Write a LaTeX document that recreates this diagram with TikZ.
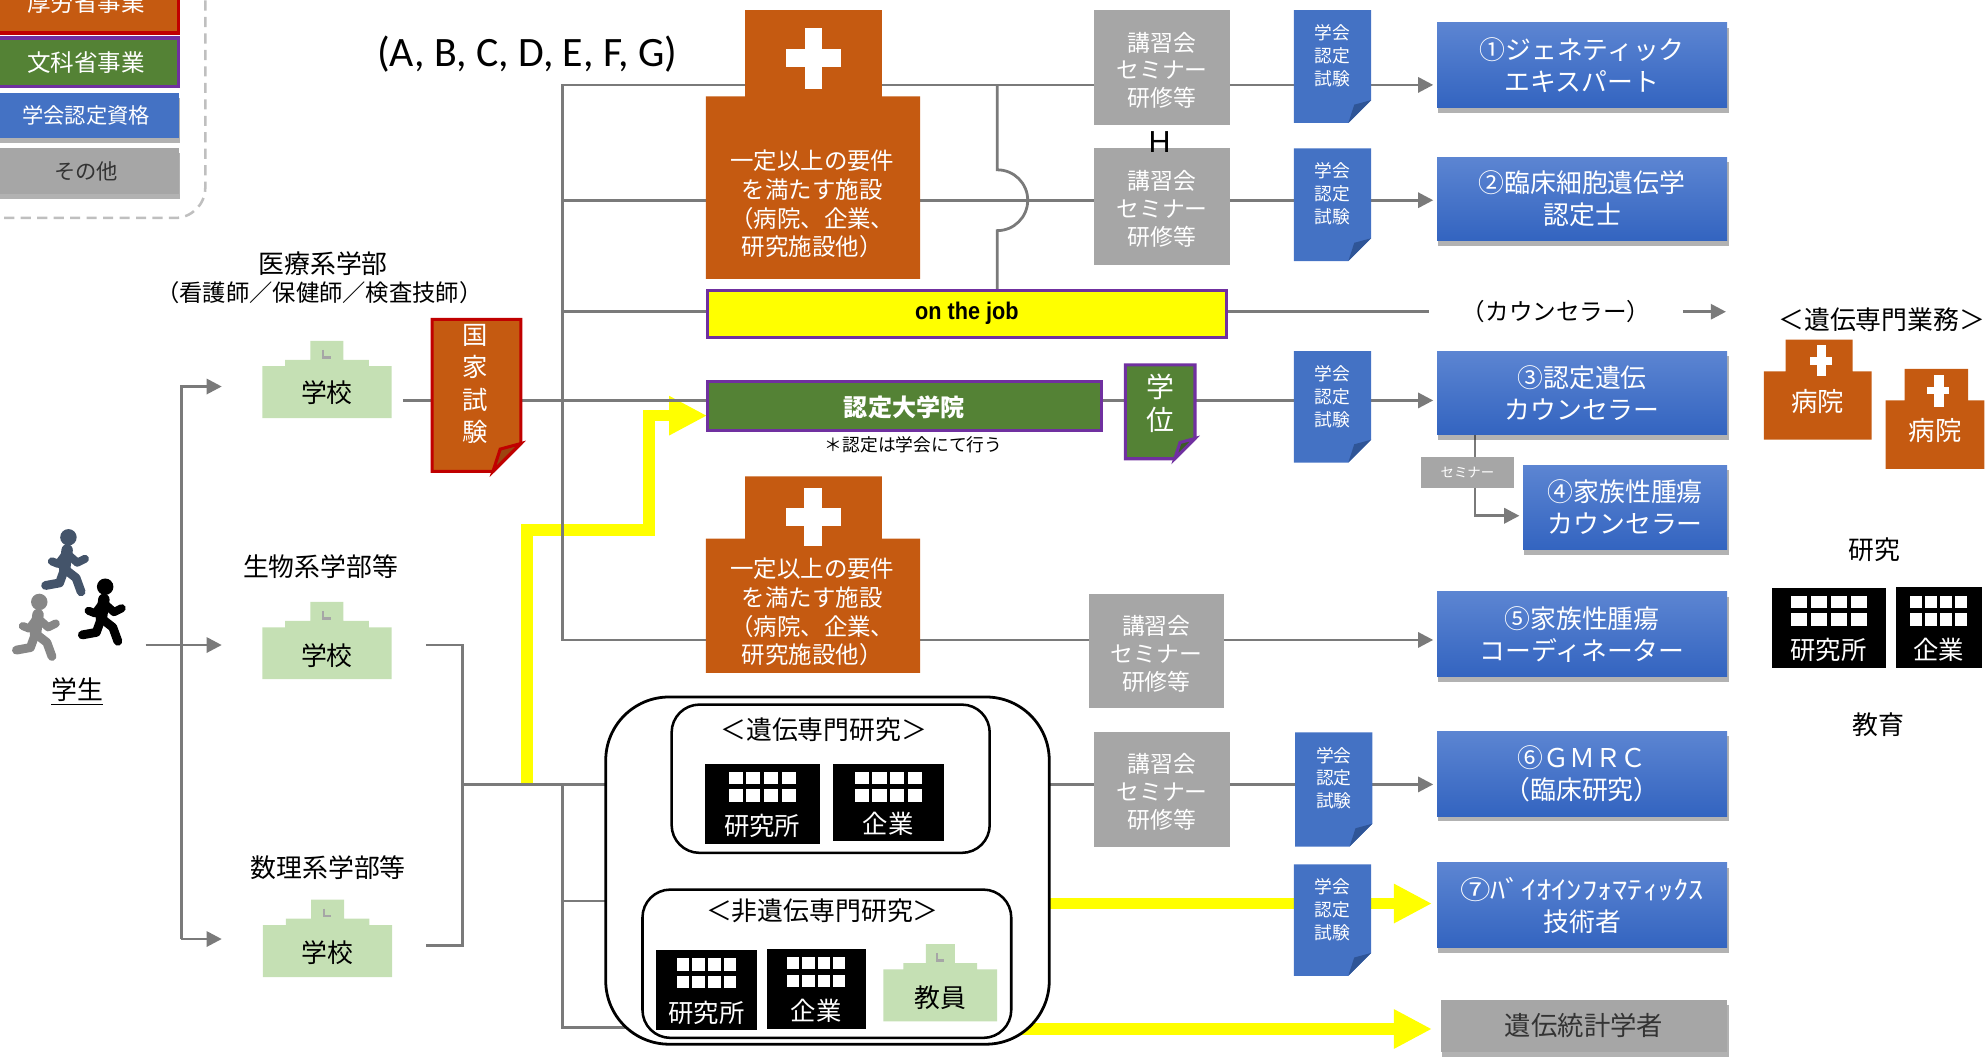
\documentclass[tikz,border=0pt]{standalone}
\usepackage{fontspec}
\setmainfont{Noto Sans CJK JP}
\newfontfamily\calf{Carlito}
\newfontfamily\arf{Liberation Sans}
\usetikzlibrary{arrows.meta,fit,calc,shadows}
\pgfdeclarelayer{bg}\pgfdeclarelayer{shp}
\pgfsetlayers{bg,shp,main}
\definecolor{org}{HTML}{C55A11}
\definecolor{orgdk}{HTML}{9C4510}
\definecolor{redb}{HTML}{C00000}
\definecolor{grn}{HTML}{548235}
\definecolor{grndk}{HTML}{3B5C25}
\definecolor{purp}{HTML}{7030A0}
\definecolor{blu}{HTML}{4472C4}
\definecolor{blutop}{HTML}{5C85D2}
\definecolor{blubot}{HTML}{3364C0}
\definecolor{bludk}{HTML}{2F5597}
\definecolor{gry}{HTML}{A6A6A6}
\definecolor{lgray}{HTML}{7A7A7A}
\definecolor{ygreen}{HTML}{C5E0B4}
\definecolor{slate}{HTML}{44546A}
\definecolor{yel}{HTML}{FFFF00}
\definecolor{lborder}{HTML}{BFBFBF}
\definecolor{ltxt}{HTML}{333333}
\newcommand\fs[2]{\fontsize{#1}{#2}\selectfont}
\tikzset{
 box/.style={inner sep=0pt, outer sep=0pt},
 shadowed/.style={drop shadow={shadow xshift=0.5pt, shadow yshift=-2pt, opacity=0.3, fill=black}},
 gbox/.style={box, fill=gry},
 gtxt/.style={text=white, align=center, font=\fs{9}{11}},
 rbox/.style={box, top color=blutop, bottom color=blubot, shadowed},
 rtxt/.style={text=white, align=center, font=\fs{10.2}{12.6}},
 doctxt/.style={text=white, font=\fs{7}{9}, align=center},
 gl/.style={draw=lgray, line width=1.1pt},
 ga/.style={gl, -{Triangle[length=6pt,width=6pt]}, shorten >=1.5pt},
 yl/.style={draw=yel, line width=4.6pt, line join=miter},
 ya/.style={yl, -{Triangle[length=15pt,width=14.5pt]}},
 blk/.style={box, fill=black},
 bldtxt/.style={text=white, font=\fs{10}{12}},
 lbl/.style={text=black, font=\fs{10.2}{12}},
 hosptxt/.style={text=white, align=center, font=\fs{9.25}{11.3}},
 wtxt/.style={text=white, align=center},
 runner/.pic={
  \fill (0,0) circle[radius=6.5];
  \draw[line width=4.5pt, line cap=round] (-1,10) -- (-3,25);
  \draw[line width=3.2pt, line cap=round, line join=round] (-1,13) -- (7,20) -- (13,17);
  \draw[line width=3.2pt, line cap=round, line join=round] (-2,13) -- (-8,21) -- (-13,19);
  \draw[line width=3.5pt, line cap=round, line join=round] (-3,25) -- (6,32) -- (10,43);
  \draw[line width=3.5pt, line cap=round, line join=round] (-3,25) -- (-7,36) -- (-18,38);
 }
}
\newcommand\docshape[5]{%
 \begin{pgfonlayer}{shp}
 \path[fill=#2,#3] (#1.north west) -- (#1.north east) -- ($(#1.south east)+(0,-#5)$) -- ($(#1.south east)+(-#5,0)$) -- (#1.south west) -- cycle;
 \path[fill=#4,#3] ($(#1.south east)+(0,-#5)$) -- ($(#1.south east)+(-#5,0)$) -- ($(#1.south east)+(-0.74*#5,-0.8*#5)$) -- cycle;
 \end{pgfonlayer}}
\newcommand\schoolat[3][1]{%
 \begin{scope}[shift={(#2,#3)}, xscale=#1]
 \fill[ygreen] (-51,41) -- (-51,0) -- (-33,0) -- (-33,-5) -- (-13,-5) -- (-13,-20) -- (13,-20) -- (13,-5) -- (33,-5) -- (33,0) -- (51,0) -- (51,41) -- cycle;
 \draw[gry, line width=0.9pt] (-3,-13) -- (-3,-7) -- (3,-7);
 \end{scope}}
\newcommand\bldg[9]{%
 \node[blk, fit={(#2,#3) (#4,#5)}] (#1) {};
 \pgfmathsetmacro\bw{0.21*#7}%
 \pgfmathsetmacro\bp{(#7-\bw)/3}%
 \pgfmathsetmacro\bx{(#2+#4)/2-#7/2}%
 \foreach \i in {0,...,3}{\foreach \j in {0,1}{%
   \fill[white] ({\bx+\i*\bp},{#3+#8+\j*1.4*#9}) rectangle ++(\bw,#9);}}%
 \node[bldtxt] (#1t) at ({(#2+#4)/2},{#5-14}) {#6};%
}
\begin{document}
\begin{tikzpicture}[x=0.5pt,y=-0.5pt, every node/.style={inner sep=0pt,outer sep=0pt}]
\useasboundingbox (0,0) rectangle (1568,835.7);

% ---------- legend ----------
\draw[lborder, line width=1pt, rounded corners=12pt, dash pattern=on 4pt off 2.5pt] (-40,-40) rectangle (162,172);
\node[box, fill=org, draw=redb, line width=1.3pt, fit={(-5,-22) (141,26)}] (legO) {};
\node[text=white, font=\fs{9.3}{11}] (legOt) at (legO.center) {厚労省事業};
\node[box, fill=grn, draw=purp, line width=1.3pt, fit={(-5,30) (141,68)}] (legG) {};
\node[text=white, font=\fs{9.3}{11}] (legGt) at (legG.center) {文科省事業};
\node[box, fill=blu, shadowed, fit={(-5,73) (141,109)}] (legB) {};
\node[text=white, font=\fs{8.4}{10}] (legBt) at (legB.center) {学会認定資格};
\node[box, fill=gry, shadowed, fit={(-5,117) (141,153)}] (legY) {};
\node[text=ltxt, font=\fs{8.4}{10}] (legYt) at (legY.center) {その他};

\node[font=\calf\fs{16.5}{18}] (abc) at (416,43) {(A, B, C, D, E, F, G)};

% ---------- hospitals (centre) ----------
\fill[org] (588,8) -- (696,8) -- (696,76) -- (726,76) -- (726,220) -- (557,220) -- (557,76) -- (588,76) -- cycle;
\fill[white] (635,22) rectangle (649,70);
\fill[white] (620,39) rectangle (664,53);
\node[hosptxt] (hosp1) at (641,161) {一定以上の要件\\を満たす施設\\（病院、企業、\\研究施設他）};

\fill[org] (588,376) -- (696,376) -- (696,425) -- (726,425) -- (726,531) -- (557,531) -- (557,425) -- (588,425) -- cycle;
\fill[white] (634.5,385) rectangle (649,431);
\fill[white] (620,401) rectangle (664,415);
\node[hosptxt] (hosp2) at (641,483) {一定以上の要件\\を満たす施設\\（病院、企業、\\研究施設他）};

% ---------- seminar boxes ----------
\node[gbox, fit={(863,8) (971,99)}] (g1) {};
\node[gtxt] (g1t) at ($(g1.center)+(0,2)$) {講習会\\セミナー\\研修等};
\node[gbox, fit={(863,117) (971,209)}] (g2) {};
\node[gtxt] (g2t) at ($(g2.center)+(0,2)$) {講習会\\セミナー\\研修等};
\node[gbox, fit={(859,469) (966,559)}] (g3) {};
\node[gtxt] (g3t) at ($(g3.center)+(0,2)$) {講習会\\セミナー\\研修等};
\node[gbox, fit={(863,578) (971,668)}] (g4) {};
\node[gtxt] (g4t) at ($(g4.center)+(0,2)$) {講習会\\セミナー\\研修等};
\node[font=\arf\fs{12}{14}] (hlab) at (915,112) {H};

% ---------- exam documents ----------
\node[box, fit={(1021,8) (1082,97)}] (d1) {};
\docshape{d1}{blu}{}{bludk}{18}
\node[doctxt] (d1t) at (1051.5,44) {学会\\認定\\試験};
\node[box, fit={(1021,117) (1082,206)}] (d2) {};
\docshape{d2}{blu}{}{bludk}{18}
\node[doctxt] (d2t) at (1051.5,153) {学会\\認定\\試験};
\node[box, fit={(1021,277) (1082,365)}] (d3) {};
\docshape{d3}{blu}{}{bludk}{18}
\node[doctxt] (d3t) at (1051.5,313) {学会\\認定\\試験};
\node[box, fit={(1022,578) (1083,668)}] (d4) {};
\docshape{d4}{blu}{}{bludk}{18}
\node[doctxt] (d4t) at (1052.5,614) {学会\\認定\\試験};
\node[box, fit={(1021,682) (1082,770)}] (d5) {};
\docshape{d5}{blu}{}{bludk}{18}
\node[doctxt] (d5t) at (1051.5,718) {学会\\認定\\試験};

% ---------- results ----------
\node[rbox, fit={(1134,18) (1363,85)}] (res1) {};
\node[rtxt] (res1t) at (res1.center) {①ジェネティック\\エキスパート};
\node[rbox, fit={(1134,124) (1363,190)}] (res2) {};
\node[rtxt] (res2t) at (res2.center) {②臨床細胞遺伝学\\認定士};
\node[rbox, fit={(1134,277) (1363,343)}] (res3) {};
\node[rtxt] (res3t) at (res3.center) {③認定遺伝\\カウンセラー};
\node[rbox, fit={(1202,367) (1363,434)}] (res4) {};
\node[rtxt] (res4t) at (res4.center) {④家族性腫瘍\\カウンセラー};
\node[rbox, fit={(1134,467) (1363,534)}] (res5) {};
\node[rtxt] (res5t) at (res5.center) {⑤家族性腫瘍\\コーディネーター};
\node[rbox, fit={(1134,577) (1363,644)}] (res6) {};
\node[rtxt] (res6t) at (res6.center) {⑥ＧＭＲＣ\\（臨床研究）};
\node[rbox, fit={(1134,681) (1363,748)}] (res7) {};
\node[rtxt] (res7t) at (res7.center) {\scalebox{1.18}[1]{⑦ﾊﾞｲｵｲﾝﾌｫﾏﾃｨｯｸｽ}\\技術者};
\node[box, fill=gry, shadowed, fit={(1137,789) (1363,830)}] (stat) {};
\node[text=ltxt, font=\fs{10.4}{12}] (statt) at (stat.center) {遺伝統計学者};
\node[box, fill=gry, fit={(1121,361) (1195,385)}] (semi) {};
\node[text=white, font=\fs{5.3}{6}] (semit) at (semi.center) {セミナー};
\node[font=\fs{9.3}{11}] (couns) at (1228,246) {（カウンセラー）};

% ---------- on the job / graduate school ----------
\node[box, fill=yel, draw=purp, line width=1.2pt, fit={(558,229) (968,266)}] (ojt) {};
\node[font=\arf\bfseries\fs{9.5}{11}] (ojtt) at (ojt.center) {\scalebox{0.9}[1]{on the job}};
\node[box, fill=grn, draw=purp, line width=1.2pt, fit={(558,301) (869,340)}] (daig) {};
\node[text=white, font=\bfseries\fs{9.5}{11}] (daigt) at ($(daig.center)+(0,1)$) {認定大学院};
\node[font=\fs{7}{8}] (note) at (721,351) {＊認定は学会にて行う};
\node[box, fit={(888,288) (943,362)}] (gakui) {};
\docshape{gakui}{grn}{draw=purp, line width=1.2pt}{grndk}{16}
\node[wtxt, font=\fs{11}{13}] (gakuit) at (916,318) {学\\位};
\node[box, fit={(341,252) (411,372)}] (kokka) {};
\docshape{kokka}{org}{draw=redb, line width=1.2pt}{orgdk}{22}
\node[wtxt, font=\fs{10}{12.7}] (kokkat) at (375,303) {国\\家\\試\\験};

% ---------- schools ----------
\node[lbl] (lab1) at (255,208) {医療系学部};
\node[font=\fs{9.2}{11}] (lab1b) at (252,231) {（看護師／保健師／検査技師）};
\node[lbl] (lab2) at (253,447) {生物系学部等};
\node[lbl] (lab3) at (259,685) {数理系学部等};
\schoolat{258}{289}
\node[lbl] (sch1) at (258,310) {学校};
\schoolat{258}{495}
\node[lbl] (sch2) at (258,517) {学校};
\schoolat{258.5}{730}
\node[lbl] (sch3) at (258.5,752) {学校};

% ---------- students ----------
\pic[color=slate] at (54,424) {runner};
\pic[color=black] at (83,463) {runner};
\pic[color=lgray!90] at (31,475) {runner};
\node[lbl] (stu) at (61,546) {\underline{学生}};

% ---------- research box ----------
\node[box, draw=black, line width=1.1pt, fill=white, rounded corners=25pt, fit={(478,550) (828,824)}] (resbox) {};
\node[box, draw=black, line width=1pt, rounded corners=11pt, fit={(530,556) (781,673)}] (genbox) {};
\node[lbl] (gent) at (650,576) {＜遺伝専門研究＞};
\bldg{gA}{556}{603}{647}{666}{研究所}{53}{6}{10}
\bldg{gB}{657}{603}{745}{664}{企業}{53}{6}{10}
\node[box, draw=black, line width=1pt, rounded corners=11pt, fit={(507,702) (798,819)}] (ngbox) {};
\node[lbl] (ngt) at (649,719) {＜非遺伝専門研究＞};
\bldg{nA}{518}{750}{597}{813}{研究所}{47}{6}{10}
\bldg{nB}{605}{749}{683}{812}{企業}{46}{6}{10}
\schoolat[0.88]{742}{765}
\node[lbl] (kyoin) at (742,787) {教員};

% ---------- right column ----------
\node[lbl] (gyomu) at (1485,252) {＜遺伝専門業務＞};
\fill[org] (1409,268) -- (1462,268) -- (1462,293) -- (1477,293) -- (1477,347) -- (1392,347) -- (1392,293) -- (1409,293) -- cycle;
\fill[white] (1434,272) rectangle (1441,297);
\fill[white] (1428,282) rectangle (1446,288);
\node[wtxt, font=\fs{10.4}{12}] (hR1) at (1434.5,317) {病院};
\fill[org] (1503,291) -- (1553,291) -- (1553,316) -- (1566,316) -- (1566,370) -- (1488,370) -- (1488,316) -- (1503,316) -- cycle;
\fill[white] (1526,296) rectangle (1534,321);
\fill[white] (1521,305) rectangle (1538,311);
\node[wtxt, font=\fs{10.4}{12}] (hR2) at (1527,340) {病院};
\node[lbl] (kenkyu) at (1479,434) {研究};
\bldg{bR1}{1398}{464}{1488}{527}{研究所}{60}{6}{10}
\bldg{bR2}{1496}{463}{1564}{527}{企業}{45}{7}{10}
\node[lbl] (kyoiku) at (1482,572) {教育};

% ---------- connectors ----------
\begin{pgfonlayer}{bg}
% yellow paths first (grey lines lie over them)
\coordinate (y0) at (416,618);
\coordinate (y1) at (416,418);
\coordinate (y2) at (512,418);
\coordinate (y3) at (512,328);
\draw[ya] (y0) -- (y1) -- (y2) -- (y3) -- (daig.west |- y3);
\coordinate (y7) at (828,713);
\draw[ya, shorten >=2pt] (y7) -- (res7.west |- y7);
\coordinate (y8) at (790,812);
\draw[ya, shorten >=3.5pt] (y8) -- (stat.west |- y8);

\coordinate (stuR) at (115,509);
\coordinate (brX) at (143,509);
\coordinate (tip1) at (178,305);
\coordinate (tip2) at (178,509);
\coordinate (tip3) at (178,741);
\draw[ga] (stuR) -- (tip2);
\draw[ga] (brX |- tip3) -- (brX |- tip1) -- (tip1);
\draw[ga] (brX |- tip3) -- (tip3);

\coordinate (s1R) at (318,316);
\draw[gl] (s1R) -- (kokka.west |- s1R);
\draw[gl] (kokka.east |- s1R) -- (daig.west |- s1R);
\draw[gl] (daig.east |- s1R) -- (gakui.west |- s1R);
\draw[gl] (gakui.east |- s1R) -- (d3.west |- s1R);
\draw[ga] (d3.east |- s1R) -- (res3.west |- s1R);

\coordinate (tTop) at (444,67);
\coordinate (t2) at (444,158);
\coordinate (t3) at (444,246);
\coordinate (tBot) at (444,505);
\draw[gl] (g3.west |- tBot) -- (tBot) -- (tTop) -- (g1.west |- tTop);
\draw[gl] (t2) -- (g2.west |- t2);
\coordinate (jTop) at (787,67);
\draw[gl] (jTop) -- ++(0,67) arc[start angle=-90, end angle=90, radius=24] -- (ojt.north -| jTop);
\draw[gl] (t3) -- (ojt.west |- t3);
\coordinate (cL) at (1128,246);
\draw[gl] (ojt.east |- t3) -- (cL);
\coordinate (cS) at (1328,246);
\coordinate (cE) at (1362,246);
\draw[ga, shorten >=0pt] (cS) -- (cE);

\draw[gl] (g1.east |- tTop) -- (d1.west |- tTop);
\draw[ga] (d1.east |- tTop) -- (res1.west |- tTop);
\draw[gl] (g2.east |- t2) -- (d2.west |- t2);
\draw[ga] (d2.east |- t2) -- (res2.west |- t2);
\draw[ga] (g3.east |- tBot) -- (res5.west |- tBot);

\coordinate (k2) at (1164,407);
\draw[ga] (res3.south -| k2) -- (k2) -- (res4.west |- k2);

\coordinate (s2R) at (336,509);
\coordinate (s3R) at (336,746);
\coordinate (mg) at (365,619);
\draw[gl] (s2R) -- (s2R -| mg) -- (s3R -| mg) -- (s3R);
\draw[gl] (mg) -- (resbox.west |- mg);
\coordinate (t6) at (444,619);
\coordinate (t7) at (444,711);
\coordinate (t8) at (444,811);
\draw[gl] (t6) -- (t8) -- ($(t8)+(80,0)$);
\draw[gl] (t7) -- (resbox.west |- t7);
\draw[gl] (resbox.east |- mg) -- (g4.west |- mg);
\draw[gl] (g4.east |- mg) -- (d4.west |- mg);
\draw[ga] (d4.east |- mg) -- (res6.west |- mg);
\end{pgfonlayer}
\end{tikzpicture}
\end{document}
